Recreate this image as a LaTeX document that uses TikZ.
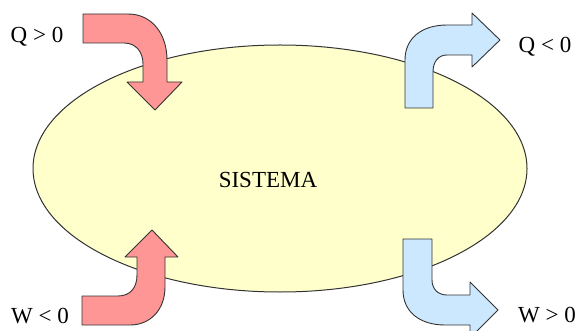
\documentclass[tikz,border=0pt]{standalone}
\usepackage{fontspec}
\setmainfont{Liberation Serif}
\definecolor{sysfill}{HTML}{FFFFCC}
\definecolor{redfill}{HTML}{FF9696}
\definecolor{bluefill}{HTML}{CCE8FF}
\definecolor{edge}{HTML}{333333}
\begin{document}
\begin{tikzpicture}[x=1pt,y=-1pt,
  shape outline/.style={draw=edge,line width=0.9pt,line join=round},
  redarrow/.style={shape outline,fill=redfill},
  bluearrow/.style={shape outline,fill=bluefill},
  lbl/.style={font=\fontsize{23}{27}\selectfont,inner sep=0pt}]
\useasboundingbox (0,0) rectangle (578,331);
\clip (0,0) rectangle (578,331);
% system
\draw[draw=edge,line width=1pt,fill=sysfill] (280,168.5) ellipse [x radius=247pt, y radius=123.5pt];
\node[lbl] (sys) at (268,180) {SISTEMA};
% Q > 0 (in, top-left)
\draw[redarrow] (83,14) -- (128,14) .. controls (152,14) and (167,34) .. (167,60)
  -- (167,82) -- (182,82) -- (155,110) -- (127,82) -- (143,82) -- (143,64)
  .. controls (143,52) and (136,43) .. (124,43) -- (83,43) -- cycle;
% Q < 0 (out, top-right)
\draw[bluearrow] (405,108) -- (405,60) .. controls (405,38) and (422,25) .. (447,25)
  -- (472,25) -- (472,13) -- (500,40) -- (472,67) -- (472,55) -- (447,55)
  .. controls (438,55) and (433,62) .. (433,72) -- (433,108) -- cycle;
% W < 0 (in, bottom-left)
\draw[redarrow] (82,325) -- (130,325) .. controls (150,325) and (165,310) .. (165,287)
  -- (165,257) -- (178,257) -- (152,230) -- (125,257) -- (137,257) -- (137,275)
  .. controls (137,288) and (130,296) .. (118,296) -- (82,296) -- cycle;
% W > 0 (out, bottom-right)
\draw[bluearrow] (403,239) -- (403,290) .. controls (403,312) and (420,325) .. (445,325)
  -- (470,325) -- (470,338) -- (498,310) -- (470,282) -- (470,295) -- (447,295)
  .. controls (438,295) and (432,289) .. (432,280) -- (432,239) -- cycle;
% labels
\node[lbl] (qin) at (37,37) {Q > 0};
\node[lbl] (qout) at (545,47) {Q < 0};
\node[lbl] (win) at (40,316) {W < 0};
\node[lbl] (wout) at (547,315) {W > 0};
\end{tikzpicture}
\end{document}
